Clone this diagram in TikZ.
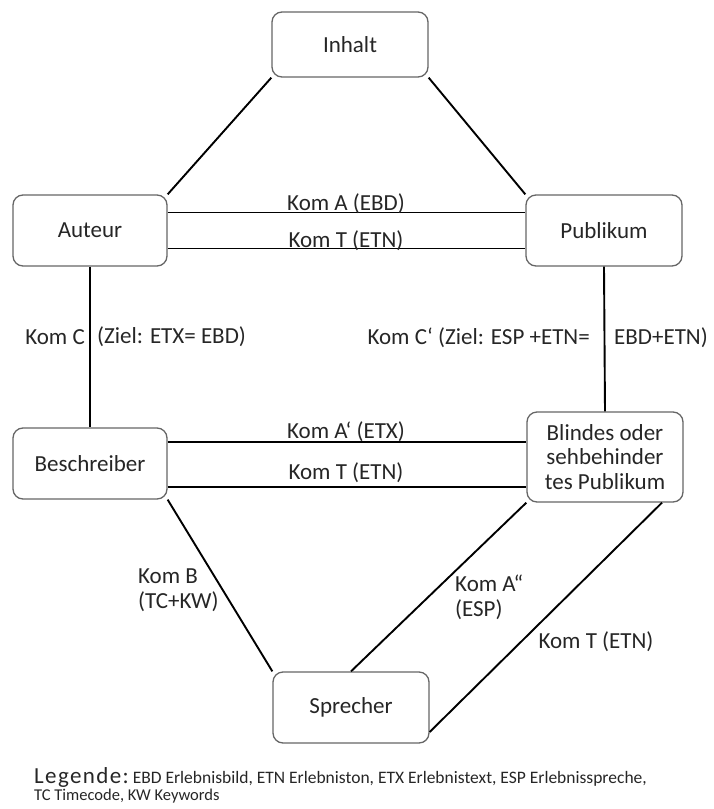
\documentclass[tikz,border=0pt]{standalone}
\usepackage{fontspec}
\setmainfont{Carlito}
\usetikzlibrary{positioning, calc}
\tikzset{
    rolle/.style={draw=black!60, line width=1.3pt, rounded corners=10pt, fill=white,
        text=black!85, minimum width=156pt, minimum height=71pt, inner sep=0pt,
        align=center, font=\fontsize{23}{24.5}\selectfont},
    kanal/.style={line width=1.9pt, black},
    komtext/.style={font=\fontsize{23}{25}\selectfont, text=black!85, inner sep=0pt}
}

\begin{document}
\begin{tikzpicture}[x=1pt, y=-1pt]
    \useasboundingbox (0,0) rectangle (713,809);
    % Rollen
    \node[rolle, minimum height=65pt] (inhalt) at (350,44.5) {Inhalt};
    \node[rolle, minimum width=154pt] (auteur) at (90,230.5) {Auteur};
    \node[rolle] (publikum) at (604,230.5) {Publikum};
    \node[rolle, minimum width=154pt] (beschreiber) at (90,463.5) {Beschreiber};
    \node[rolle, minimum height=90pt] (blind) at (605,457) {Blindes oder\\sehbehinder\\tes Publikum};
    \node[rolle] (sprecher) at (351,707.5) {Sprecher};

    % Kommunikationswege
    \draw[kanal] (inhalt.south west) -- (auteur.north east);
    \draw[kanal] (inhalt.south east) -- (publikum.north west);
    \draw[kanal] ([yshift=18pt]auteur.east) -- ([yshift=18pt]publikum.west);
    \draw[kanal] ([yshift=-18pt]auteur.east) -- ([yshift=-18pt]publikum.west);
    \draw[kanal] (auteur.south) -- (beschreiber.north);
    \draw[kanal] (publikum.south) -- (blind.north);
    \draw[kanal] ([yshift=21.5pt]beschreiber.east) -- ([yshift=21.5pt]beschreiber.east -| blind.west);
    \draw[kanal] ([yshift=-23.5pt]beschreiber.east) -- ([yshift=-23.5pt]beschreiber.east -| blind.west);
    \draw[kanal] (beschreiber.south east) -- (sprecher.north west);
    \draw[kanal] (blind.south west) -- (sprecher.north);
    \draw[kanal] ([xshift=57pt]blind.south) -- ([yshift=-24.5pt]sprecher.east);

    % Beschriftungen
    \node[komtext] (komA) at (346,204) {Kom A (EBD)};
    \node[komtext] (komT) at (346,241) {Kom T (ETN)};
    \node[komtext, anchor=east] (komC) at (85,337) {Kom C};
    \node[komtext, anchor=west] (zielC) at (97,337) {(Ziel: ETX= EBD)};
    \node[komtext, anchor=east] (komCs) at (590,338) {Kom C‘ (Ziel: ESP +ETN=};
    \node[komtext, anchor=west] (zielCs) at (614,338) {EBD+ETN)};
    \node[komtext] (komAs) at (346,432) {Kom A‘ (ETX)};
    \node[komtext] (komTu) at (346,473) {Kom T (ETN)};
    \node[komtext, anchor=west, align=left] (komB) at (138,590) {Kom B\\(TC+KW)};
    \node[komtext, anchor=west, align=left] (komAss) at (455,597) {Kom A“\\(ESP)};
    \node[komtext] (komTs) at (596,642) {Kom T (ETN)};

    % Legende
    \node[inner sep=0pt, anchor=west, text=black!85] (legende) at (34,777)
        {{\fontsize{23}{24}\selectfont\addfontfeature{LetterSpace=6}Legende:}\fontsize{17.5}{18}\selectfont\ EBD Erlebnisbild, ETN Erlebniston, ETX Erlebnistext, ESP Erlebnisspreche,};
    \node[inner sep=0pt, anchor=west, text=black!85, font=\fontsize{16.5}{18}\selectfont] (legende2) at (34,796)
        {TC Timecode, KW Keywords};
\end{tikzpicture}
\end{document}
